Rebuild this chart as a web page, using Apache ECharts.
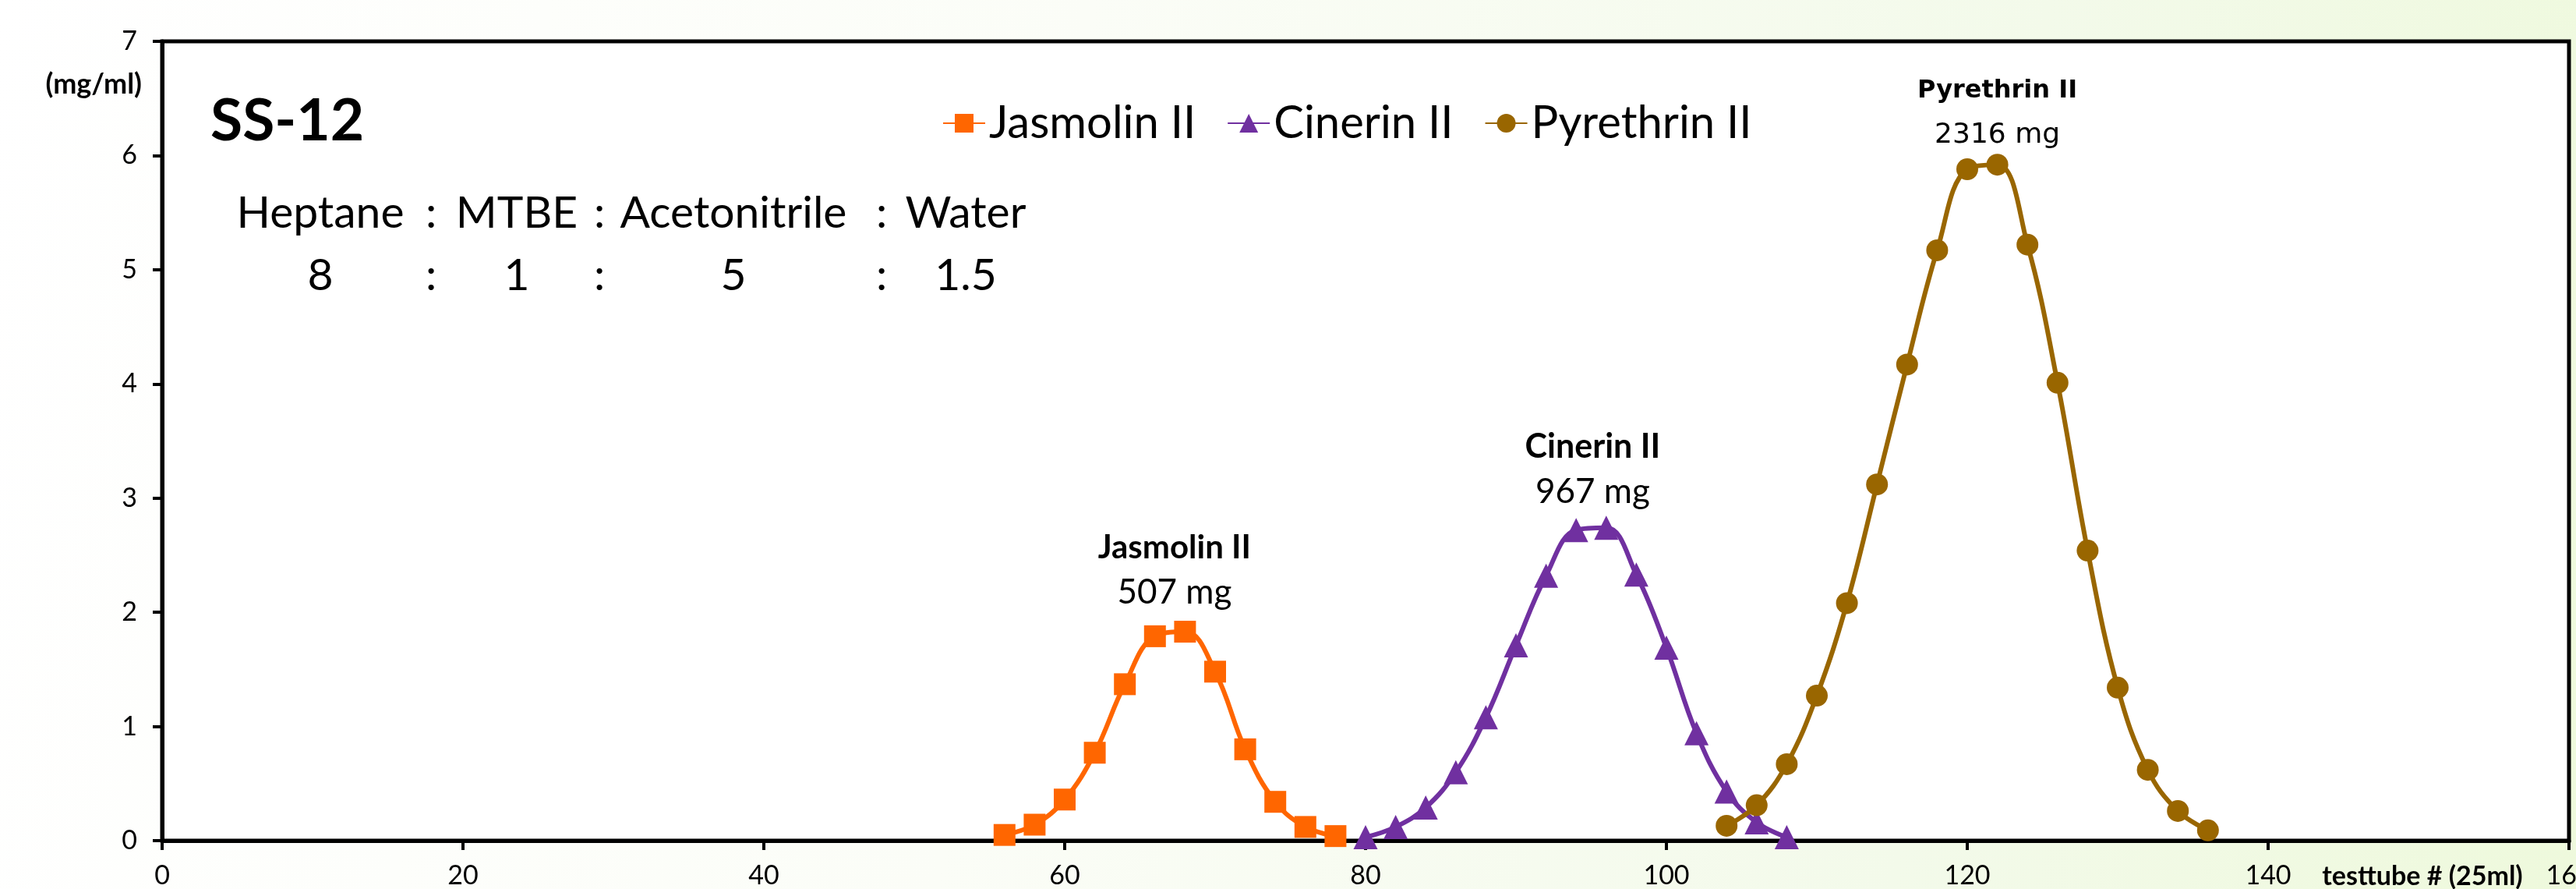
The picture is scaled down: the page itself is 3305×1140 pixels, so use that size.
<!DOCTYPE html>
<html>
<head>
<meta charset="utf-8">
<script src="https://cdn.jsdelivr.net/npm/echarts@6/dist/echarts.min.js"></script>
<style>
  html, body { margin: 0; padding: 0; }
  #chart {
    width: 3305px; height: 1140px;
    background: linear-gradient(100deg, #ffffff 0%, #fbfdf7 40%, #f3faea 75%, #eef9dc 100%);
  }
</style>
</head>
<body>
<div id="chart"></div>
<script>
// testtube numbers and concentrations (mg/ml)
const jasmolinTubes = [56, 58, 60, 62, 64, 66, 68, 70, 72, 74, 76, 78];
const jasmolinConc = [0.05, 0.14, 0.36, 0.77, 1.37, 1.79, 1.83, 1.48, 0.80, 0.34, 0.12, 0.04];

const cinerinTubes = [80, 82, 84, 86, 88, 90, 92, 94, 96, 98, 100, 102, 104, 106, 108];
const cinerinConc = [0.03, 0.12, 0.29, 0.60, 1.08, 1.71, 2.32, 2.72, 2.74, 2.33, 1.69, 0.94, 0.43, 0.16, 0.03];

const pyrethrinTubes = [104, 106, 108, 110, 112, 114, 116, 118, 120, 122, 124, 126, 128, 130, 132, 134, 136];
const pyrethrinConc = [0.13, 0.31, 0.67, 1.27, 2.08, 3.12, 4.17, 5.17, 5.88, 5.92, 5.22, 4.01, 2.54, 1.34, 0.62, 0.26, 0.09];

const seriesNames = ['Jasmolin II', 'Cinerin II', 'Pyrethrin II'];
const peakMass = ['507 mg', '967 mg', '2316 mg'];
// where each peak label sits, in data units (tube #, mg/ml)
const peakLabelAt = [[67.3, 2.37], [95.1, 3.25], [122.0, 6.37]];

const xTicks = [0, 20, 40, 60, 80, 100, 120, 140, 160];
const yTicks = [0, 1, 2, 3, 4, 5, 6, 7];

const solventNames = ['Heptane', 'MTBE', 'Acetonitrile', 'Water'];
const solventRatio = ['8', '1', '5', '1.5'];

const colors = ['#FF6600', '#7030A0', '#996600'];
const symbols = ['rect', 'triangle', 'circle'];

const chart = echarts.init(document.getElementById('chart'));

function pairs(xs, ys) {
  return xs.map((x, i) => [x, ys[i]]);
}

const FONT = 'Lato';
const allData = [
  pairs(jasmolinTubes, jasmolinConc),
  pairs(cinerinTubes, cinerinConc),
  pairs(pyrethrinTubes, pyrethrinConc)
];

// label fonts: the pyrethrin one uses a wider face in the original
const labelFonts = [FONT, FONT, 'DejaVu Sans'];
const labelBoldSize = [42, 43, 32];
const labelSize = [44, 44, 36];

const series = allData.map((d, i) => ({
  name: seriesNames[i],
  type: 'line',
  data: d,
  smooth: 0.4,
  symbol: symbols[i],
  symbolSize: i === 1 ? 31 : 28,
  showAllSymbol: true,
  lineStyle: { color: colors[i], width: 6 },
  itemStyle: { color: colors[i] },
  z: 3 + i,
  markPoint: {
    symbol: 'circle',
    symbolSize: 1,
    itemStyle: { color: 'rgba(0,0,0,0)' },
    silent: true,
    label: {
      show: true,
      position: 'inside',
      formatter: '{b|' + seriesNames[i] + '}\n{n|' + peakMass[i] + '}',
      rich: {
        b: { fontFamily: labelFonts[i], fontWeight: 'bold', fontSize: labelBoldSize[i], color: '#000', lineHeight: 57, align: 'center' },
        n: { fontFamily: labelFonts[i], fontSize: labelSize[i], color: '#000', lineHeight: 57, align: 'center' }
      }
    },
    data: [{ coord: peakLabelAt[i] }]
  }
}));

// solvent system text, one word per column
const ratioCols = [411, 663, 941, 1239];
const colonCols = [553, 769, 1131];
const graphics = [
  { type: 'text', left: 270, top: 118, style: { text: 'SS-12', fontFamily: FONT, fontWeight: 'bold', fontSize: 75, fill: '#000' } },
  { type: 'text', right: 3305 - 182, top: 90, style: { text: '(mg/ml)', fontFamily: FONT, fontWeight: 'bold', fontSize: 36, fill: '#000' } },
  { type: 'text', x: 3108, y: 1124, style: { text: 'testtube # (25ml)', fontFamily: FONT, fontWeight: 'bold', fontSize: 34, fill: '#000', align: 'center', verticalAlign: 'middle' } }
];
solventNames.forEach((t, i) => {
  graphics.push({ type: 'text', x: ratioCols[i], y: 274, style: { text: t, fontFamily: FONT, fontSize: 57, fill: '#000', align: 'center', verticalAlign: 'middle' } });
  graphics.push({ type: 'text', x: ratioCols[i], y: 354, style: { text: solventRatio[i], fontFamily: FONT, fontSize: 57, fill: '#000', align: 'center', verticalAlign: 'middle' } });
});
colonCols.forEach(x => {
  graphics.push({ type: 'text', x: x, y: 274, style: { text: ':', fontFamily: FONT, fontSize: 57, fill: '#000', align: 'center', verticalAlign: 'middle' } });
  graphics.push({ type: 'text', x: x, y: 354, style: { text: ':', fontFamily: FONT, fontSize: 57, fill: '#000', align: 'center', verticalAlign: 'middle' } });
});

const option = {
  backgroundColor: 'transparent',
  animation: false,
  textStyle: { fontFamily: FONT },
  grid: {
    left: 208, right: 9, top: 53, bottom: 62,
    outerBoundsMode: 'none',
    containLabel: false,
    show: true,
    backgroundColor: '#ffffff',
    borderColor: '#000',
    borderWidth: 5
  },
  legend: {
    data: seriesNames,
    left: 1204,
    top: 124,
    itemWidth: 54,
    itemHeight: 30,
    itemGap: 40,
    textStyle: { fontFamily: FONT, fontSize: 58, color: '#000' }
  },
  xAxis: {
    type: 'value',
    min: xTicks[0],
    max: xTicks[xTicks.length - 1],
    interval: 20,
    axisLine: { show: true, lineStyle: { color: '#000', width: 5 } },
    axisTick: { show: true, inside: false, length: 12, lineStyle: { color: '#000', width: 4 } },
    axisLabel: { fontFamily: FONT, fontSize: 34, color: '#000', margin: 28 },
    splitLine: { show: false }
  },
  yAxis: {
    type: 'value',
    min: yTicks[0],
    max: yTicks[yTicks.length - 1],
    interval: 1,
    axisLine: { show: true, lineStyle: { color: '#000', width: 5 } },
    axisTick: { show: true, inside: false, length: 12, lineStyle: { color: '#000', width: 4 } },
    axisLabel: { fontFamily: FONT, fontSize: 34, color: '#000', margin: 32 },
    splitLine: { show: false }
  },
  graphic: graphics,
  series: series
};

chart.setOption(option);
</script>
</body>
</html>
